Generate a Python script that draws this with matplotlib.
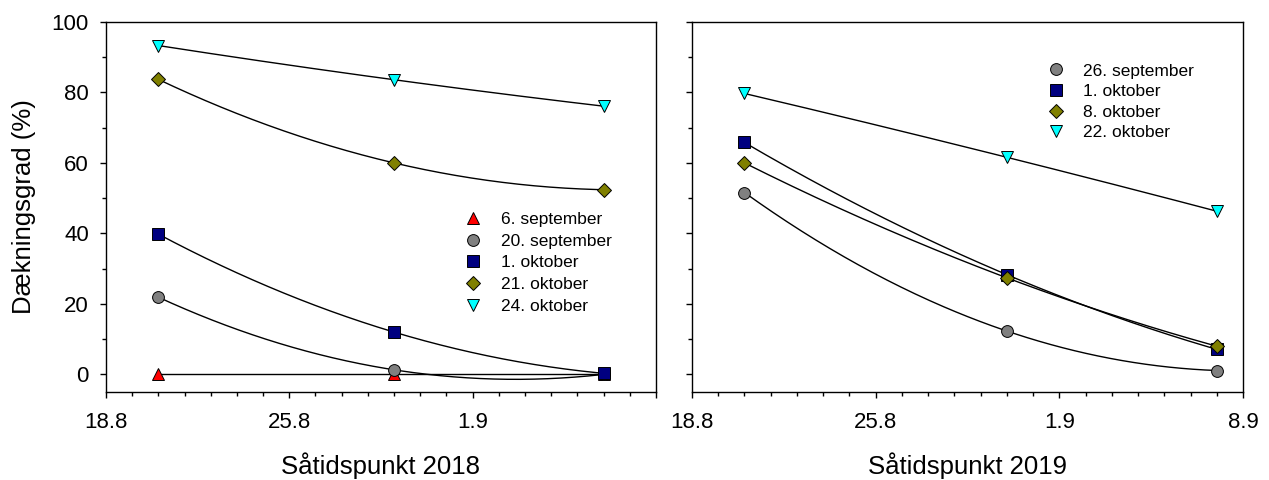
import numpy as np
import matplotlib
matplotlib.use("Agg")
import matplotlib.pyplot as plt
import matplotlib.dates as mdates
from matplotlib.ticker import MultipleLocator, FixedLocator

plt.rcParams['font.family'] = ['Liberation Sans', 'DejaVu Sans']

# 2018 panel
dates_2018 = ["2018-08-20", "2018-08-29", "2018-09-06"]
labels_2018 = ["6. september", "20. september", "1. oktober", "21. oktober", "24. oktober"]
values_2018 = [
    [0.0, 0.0, 0.0],
    [21.9, 1.3, 0.0],
    [39.8, 12.0, 0.3],
    [83.7, 60.0, 52.4],
    [93.3, 83.6, 76.1],
]
markers_2018 = ["^", "o", "s", "D", "v"]
colors_2018 = ["#ff0000", "#808080", "#000080", "#808000", "#00ffff"]

# 2019 panel
dates_2019 = ["2019-08-20", "2019-08-30", "2019-09-07"]
labels_2019 = ["26. september", "1. oktober", "8. oktober", "22. oktober"]
values_2019 = [
    [51.6, 12.3, 1.1],
    [65.8, 28.3, 7.1],
    [60.0, 27.4, 8.0],
    [79.7, 61.6, 46.3],
]
markers_2019 = ["o", "s", "D", "v"]
colors_2019 = ["#808080", "#000080", "#808000", "#00ffff"]

tick_days = ["08-18", "08-25", "09-01", "09-08"]
tick_labels = ["18.8", "25.8", "1.9", "8.9"]

fig = plt.figure(figsize=(12.69, 4.8), dpi=100)
ax1 = fig.add_axes([0.0835, 0.1833, 0.4334, 0.771])
ax2 = fig.add_axes([0.5453, 0.1833, 0.4342, 0.771])


def draw(ax, year, dates, labels, values, markers, colors, show_last):
    x = mdates.datestr2num(dates)
    for lab, vals, m, c in zip(labels, values, markers, colors):
        # 2nd order fit through the three sowing dates
        coef = np.polyfit(x - x[0], vals, 2)
        xs = np.linspace(x[0], x[-1], 200)
        ax.plot(xs, np.polyval(coef, xs - x[0]), color="black", lw=1.0, zorder=2)
        ms = 9 if m in ("^", "v") else (7.5 if m == "D" else 8.5)
        ax.plot(x, vals, linestyle="none", marker=m, markersize=ms, markerfacecolor=c,
                markeredgecolor="black", markeredgewidth=0.7, label=lab, zorder=3)
    ticks = mdates.datestr2num([f"{year}-{d}" for d in tick_days])
    ax.set_xlim(ticks[0], ticks[-1])
    ax.xaxis.set_major_locator(FixedLocator(ticks))
    lbls = list(tick_labels)
    if not show_last:
        lbls[-1] = ""
    ax.set_xticklabels(lbls)
    ax.xaxis.set_minor_locator(MultipleLocator(1))
    ax.set_ylim(-5, 100)
    ax.yaxis.set_major_locator(MultipleLocator(20))
    ax.yaxis.set_minor_locator(MultipleLocator(10))
    ax.tick_params(axis="both", which="major", direction="out", length=4.3, width=1,
                   labelsize=16, top=False, right=False)
    ax.tick_params(axis="x", which="major", pad=10)
    ax.tick_params(axis="y", which="major", pad=8)
    ax.tick_params(axis="both", which="minor", direction="out", length=3, width=1,
                   top=False, right=False)
    for s in ax.spines.values():
        s.set_linewidth(1.0)
    ax.set_xlabel(f"Såtidspunkt {year}", fontsize=18.5, labelpad=14)


draw(ax1, 2018, dates_2018, labels_2018, values_2018, markers_2018, colors_2018, False)
draw(ax2, 2019, dates_2019, labels_2019, values_2019, markers_2019, colors_2019, True)
ax1.set_ylabel("Dækningsgrad (%)", fontsize=18.5, labelpad=11)
ax2.set_yticklabels([])

leg_kw = dict(frameon=False, fontsize=12.5, handletextpad=1.0, handlelength=1.2,
              borderaxespad=0, borderpad=0)
ax1.legend(loc="upper left", bbox_to_anchor=(0.649, 0.487), labelspacing=0.38, **leg_kw)
ax2.legend(loc="upper left", bbox_to_anchor=(0.641, 0.888), labelspacing=0.31, **leg_kw)

fig.savefig("out.png", dpi=100)
